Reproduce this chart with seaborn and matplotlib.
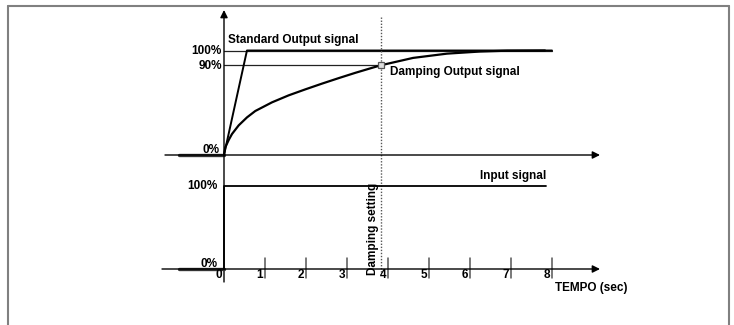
import numpy as np
import pandas as pd
import matplotlib
matplotlib.use("Agg")
import matplotlib.pyplot as plt
from matplotlib.lines import Line2D
import seaborn as sns

# ---------------- data ----------------
tick_times = [1, 2, 3, 4, 5, 6, 7, 8]
tick_labels = ["1", "2", "3", "4", "5", "6", "7", "8"]
damping_t = [0.0, 0.032, 0.115, 0.195, 0.359, 0.561, 0.763, 1.171, 1.578, 1.983,
             2.39, 2.80, 3.20, 3.61, 3.83, 4.61, 5.44, 6.24, 6.9, 7.83]
damping_v = [0.0, 7.4, 14.4, 20.1, 28.4, 36.0, 42.1, 50.4, 57.1, 62.8,
             68.3, 73.6, 78.6, 83.4, 85.9, 92.9, 97.0, 99.0, 99.8, 100.0]
standard_t = [0.0, 0.56, 8.0]
standard_v = [0.0, 100.0, 100.0]
input_t = [0.0, 0.0, 7.85]
input_v = [0.0, 100.0, 100.0]
pre_t = [-1.1, 0.0]
pre_v = [0.0, 0.0]
damping_setting = 3.83
level_full = 100.0
level_90 = 85.9   # drawn position of the "90%" line

# ---------------- style ----------------
sns.set_style("white")
plt.rcParams["font.family"] = ["Liberation Sans", "DejaVu Sans"]
FS = 8.5
TXT = dict(fontsize=FS, fontweight="bold", color="black")

W, H = 734, 325
fig = plt.figure(figsize=(W / 100, H / 100), dpi=100)
ax_up = fig.add_axes([0, 0, 1, 1])
ax_lo = fig.add_axes([0, 0, 1, 1])

x0, ppx = 224, 41.0
xlim = (-x0 / ppx, (W - x0) / ppx)
up0, upk = 155, 1.045
lo0, lok = 269, 0.83
for ax in (ax_up, ax_lo):
    ax.set_xlim(*xlim)
    ax.set_axis_off()
    ax.patch.set_alpha(0)
ax_up.set_ylim((up0 - H) / upk, up0 / upk)
ax_lo.set_ylim((lo0 - H) / lok, lo0 / lok)

# border
for (xa, ya, xb, yb) in [(7.5, H, 7.5, 5.5), (7.5, 5.5, 729, 5.5), (729, 5.5, 729, H)]:
    fig.add_artist(Line2D([xa / W, xb / W], [1 - ya / H, 1 - yb / H],
                          color="#808080", lw=1.5, transform=fig.transFigure))

# ---------------- upper panel ----------------
arrow_kw = dict(arrowstyle="-|>", color="black", lw=1.0, mutation_scale=11, shrinkA=0, shrinkB=0)
ax_up.annotate("", xy=((600 - x0) / ppx, 0), xytext=((165 - x0) / ppx, 0), arrowprops=arrow_kw)
ax_up.annotate("", xy=(0, (up0 - 10) / upk), xytext=(0, (up0 - 282) / upk), arrowprops=arrow_kw)

ax_up.plot([0, 8], [level_full, level_full], color="#222222", lw=0.9)
ax_up.plot([0, damping_setting], [level_90, level_90], color="#222222", lw=0.9)

sns.lineplot(x=pre_t, y=pre_v, ax=ax_up, color="#333333", lw=2.4, estimator=None, sort=False)
sns.lineplot(x=standard_t, y=standard_v, ax=ax_up, color="black", lw=1.4, estimator=None, sort=False)
sns.lineplot(x=damping_t, y=damping_v, ax=ax_up, color="black", lw=1.6, estimator=None, sort=False,
             solid_joinstyle="round", solid_capstyle="round")

ax_up.plot([damping_setting, damping_setting], [(up0 - 17) / upk, (up0 - 272) / upk],
           color="#555555", lw=1.0, ls=(0, (1, 1.2)))
ax_up.plot([damping_setting], [level_90], marker="s", ms=4.5, mfc="#dddddd", mec="#555555", mew=0.9)

ax_up.text(-0.05, 99.5, "100%", ha="right", va="center", **TXT)
ax_up.text(-0.05, 85.6, "90%", ha="right", va="center", **TXT)
ax_up.text(-0.12, 4.8, "0%", ha="right", va="center", **TXT)
ax_up.text(0.10, 110.5, "Standard Output signal", ha="left", va="center", **TXT)
ax_up.text(4.05, 79.9, "Damping Output signal", ha="left", va="center", **TXT)

# ---------------- lower panel ----------------
ax_lo.annotate("", xy=((600 - x0) / ppx, 0), xytext=((162 - x0) / ppx, 0), arrowprops=arrow_kw)
sns.lineplot(x=pre_t, y=pre_v, ax=ax_lo, color="#333333", lw=2.4, estimator=None, sort=False)
sns.lineplot(x=input_t, y=input_v, ax=ax_lo, color="black", lw=1.3, estimator=None, sort=False)

for t, lab in zip(tick_times, tick_labels):
    ax_lo.plot([t, t], [(lo0 - 258) / lok, (lo0 - 278) / lok], color="#555555", lw=1.1)
    ax_lo.text(t - 0.05, -7.0, lab, ha="right", va="center", **TXT)
ax_lo.text(-0.05, -7.0, "0", ha="right", va="center", **TXT)

ax_lo.text(-0.15, 99.4, "100%", ha="right", va="center", **TXT)
ax_lo.text(-0.15, 6.6, "0%", ha="right", va="center", **TXT)
ax_lo.text(7.85, 112, "Input signal", ha="right", va="center", **TXT)
ax_lo.text(8.07, -22.3, "TEMPO (sec)", ha="left", va="center", **TXT)
ax_lo.text(3.63, 48.2, "Damping setting", ha="center", va="center", rotation=90, **TXT)

fig.savefig("out.png", dpi=100)
